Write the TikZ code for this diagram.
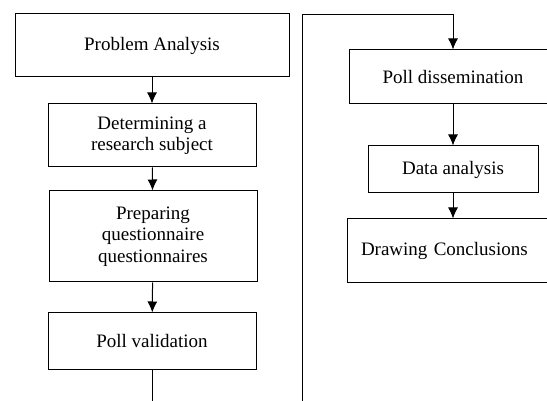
\documentclass[tikz,border=0pt]{standalone}
\usepackage{fontspec}
\setmainfont{Liberation Serif}
\usetikzlibrary{arrows.meta, positioning}

\begin{document}
\begin{tikzpicture}[x=1pt, y=-1pt]

\tikzset{stage/.style = {shape=rectangle, draw, line width=1pt, align=center, minimum height=63pt, inner sep=2pt, font=\fontsize{19}{21.5}\selectfont}}
\tikzset{edge/.style = {-{Latex[length=11pt,width=10pt]}, line width=1pt}}
\path[use as bounding box, clip] (0,0) rectangle (547,401);
% vertices
\node[stage, minimum width=274pt] (analysis) at (152,45.5) {Problem Analysis};
\node[stage, minimum width=208pt] (subject) at (152,135.5) {Determining a\\research subject};
\node[stage, minimum width=208pt, minimum height=91pt] (prepare) at (153,236.5) {Preparing\\questionnaire\\questionnaires};
\node[stage, minimum width=208pt, minimum height=56pt] (validation) at (152,341) {Poll validation};
\node[stage, minimum width=208pt, minimum height=54pt] (dissemination) at (453,77) {Poll dissemination};
\node[stage, minimum width=170pt, minimum height=47pt] (data) at (453,169.5) {Data analysis};
\node[stage, minimum width=212pt, minimum height=64pt, text width=184pt, inner xsep=14pt, align=left] (conclusions) at (453,251) {Drawing Conclusions};
\coordinate (leftend) at (152,410);
\coordinate (rightend) at (302,410);
\coordinate (corner) at (302,15);
%edges
\draw [edge] (analysis) -- (subject);
\draw [edge] (subject) -- (prepare);
\draw [edge] (prepare) -- (validation);
\draw [line width=1pt] (validation) -- (leftend);
\draw [edge] (rightend) -- (corner) -| (dissemination);
\draw [edge] (dissemination) -- (data);
\draw [edge] (data) -- (conclusions);
\end{tikzpicture}
\end{document}
